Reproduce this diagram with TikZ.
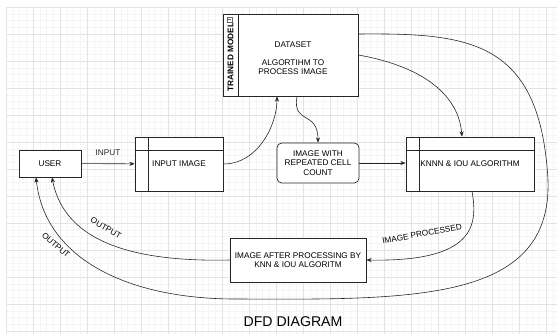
\documentclass[tikz,border=0pt]{standalone}
\usepackage{fontspec}
\setmainfont{Liberation Sans}
\usetikzlibrary{arrows.meta}
\newlength{\px}\setlength{\px}{0.85pt}
\tikzset{
  lbl/.style={font=\fontsize{7}{8}\selectfont, align=center},
  box/.style={draw=black!85, line width=0.6pt, fill=white, inner sep=0pt, lbl},
  procbox/.style={box, path picture={
      \draw[black!85, line width=0.6pt] ([xshift=13\px]path picture bounding box.north west) -- ([xshift=13\px]path picture bounding box.south west);
      \draw[black!85, line width=0.6pt] ([yshift=-13\px]path picture bounding box.north west) -- ([yshift=-13\px]path picture bounding box.north east);}},
  tagbox/.style={box, path picture={
      \draw[black!85, line width=0.6pt] ([xshift=15\px]path picture bounding box.north west) -- ([xshift=15\px]path picture bounding box.south west);}},
  flow/.style={black!85, line width=0.5pt, ->},
  >={Stealth[length=4.5pt, width=3.5pt]}
}
\begin{document}
\begin{tikzpicture}[x=0.85pt, y=-0.85pt]
        \useasboundingbox[fill=white] (0,0) rectangle (557,334);
        % grid
        \foreach \gx in {6,12.75,...,557} \draw[gray!8] (\gx,7) -- (\gx,334);
        \foreach \gy in {7,13.75,...,334} \draw[gray!8] (6,\gy) -- (557,\gy);
        \foreach \gx in {6,33,...,557} \draw[gray!22] (\gx,7) -- (\gx,334);
        \foreach \gy in {7,34,...,334} \draw[gray!22] (6,\gy) -- (557,\gy);

        % nodos
        \node[box, minimum width=62\px, minimum height=27\px] (user) at (50,163.5) {USER};
        \node[procbox, minimum width=88\px, minimum height=54\px] (inimg) at (179,164) {INPUT IMAGE};
        \node[tagbox, minimum width=135\px, minimum height=82\px] (trained) at (290.5,55) {};
        \node[lbl, font=\fontsize{7}{8}\selectfont\bfseries, rotate=90] (trainedtag) at (230.5,57) {TRAINED MODEL};
        \node[draw=black!60, line width=0.3pt, minimum size=5\px, inner sep=0pt] (trainedicon) at (229.5,19.5) {};
        \draw[black!60, line width=0.3pt] ([xshift=-1.5\px]trainedicon.center) -- ([xshift=1.5\px]trainedicon.center);
        \node[lbl, font=\fontsize{7}{7.65}\selectfont] (trainedtxt) at (293,58) {DATASET\\[7.65pt]ALGORTIHM TO\\PROCESS IMAGE};
        \node[box, rounded corners=4pt, minimum width=82\px, minimum height=40\px] (repeated) at (318,163) {IMAGE WITH\\REPEATED CELL\\COUNT};
        \node[procbox, minimum width=128\px, minimum height=54\px] (knn) at (470,164) {KNNN \& IOU ALGORITHM};
        \node[box, minimum width=136\px, minimum height=44\px] (after) at (298,260) {IMAGE AFTER PROCESSING BY\\KNN \& IOU ALGORITM};
        \node[font=\fontsize{12}{14}\selectfont] (title) at (293,322) {DFD DIAGRAM};

        % flujos
        \draw[flow] (user) -- node[lbl, above=3pt] (inlbl) {INPUT} (inimg);
        \draw[flow] (inimg.east) .. controls (258,164) and (277,125) .. ([xshift=-13.5\px]trained.south);
        \draw[flow] ([xshift=6.5\px]trained.south) .. controls (292,125) and (318,110) .. (repeated.north);
        \draw[flow] (trained.east) .. controls (415,65) and (458,90) .. ([xshift=-8\px]knn.north);
        \draw[flow] (repeated.east) -- (repeated.east -| knn.west);
        \draw[flow] ([xshift=2\px]knn.south) .. controls (478,225) and (475,262) .. (after.east);
        \node[lbl, rotate=10] (proclbl) at (422,234) {IMAGE PROCESSED};
        \draw[flow] (after.west) .. controls (140,262) and (65,245) .. ([xshift=2\px]user.south);
        \node[lbl, rotate=-30] (outlbl) at (106,228) {OUTPUT};
        \draw[flow] ([yshift=21\px]trained.east) .. controls (470,33) and (540,40) .. (548,180)
            .. controls (552,300) and (420,300) .. (240,299) .. controls (130,300) and (45,260) .. ([xshift=-14\px]user.south);
        \node[lbl, rotate=-41] (outerlbl) at (56,245) {OUTPUT};
    \end{tikzpicture}
\end{document}
